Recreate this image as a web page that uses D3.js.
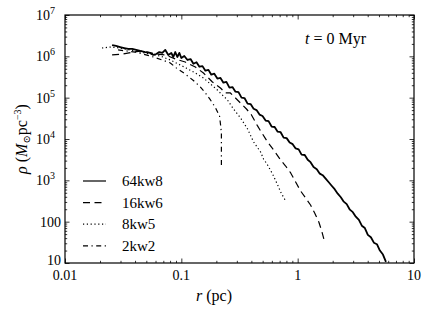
<!DOCTYPE html>
<html>
<head>
<meta charset="utf-8">
<script src="https://cdn.jsdelivr.net/npm/d3@7"></script>
<style>
  body { margin: 0; background: #fff; }
</style>
</head>
<body>
<div id="container"></div>
<script>
/* CONSTANTS AND GLOBALS */
const width = 436,
  height = 311,
  margin = { top: 15, bottom: 48, left: 65, right: 22 };

/* DATA */
const seriesNames = ["64kw8", "16kw6", "8kw5", "2kw2"];

const r64 = [0.0254, 0.0275, 0.0298, 0.0323, 0.0349, 0.0378, 0.0409, 0.0443, 0.049, 0.0541,
  0.0574, 0.0609, 0.0646, 0.0686, 0.0728, 0.0773, 0.082, 0.0853, 0.0887, 0.0924,
  0.0961, 0.1, 0.106, 0.113, 0.12, 0.127, 0.135, 0.143, 0.152, 0.161,
  0.171, 0.181, 0.192, 0.204, 0.217, 0.23, 0.244, 0.259, 0.275, 0.292,
  0.31, 0.329, 0.349, 0.371, 0.394, 0.418, 0.443, 0.47, 0.499, 0.53,
  0.562, 0.597, 0.634, 0.673, 0.714, 0.757, 0.804, 0.853, 0.906, 0.961,
  1.02, 1.08, 1.15, 1.22, 1.29, 1.37, 1.46, 1.55, 1.64, 1.74,
  1.85, 1.96, 2.08, 2.21, 2.35, 2.49, 2.64, 2.81, 2.98, 3.16,
  3.36, 3.56, 3.78, 4.01, 4.26, 4.52, 4.8, 5.09, 5.41, 5.74];
const rho64 = [1.88e6, 1.78e6, 1.68e6, 1.59e6, 1.51e6, 1.51e6, 1.43e6, 1.35e6, 1.27e6, 1.21e6,
  1.08e6, 1.14e6, 1.27e6, 1.21e6, 1.43e6, 1.08e6, 1.21e6, 9.64e5, 1.27e6, 9.64e5,
  1.21e6, 9.12e5, 1.02e6, 8.16e5, 8.6e5, 6.6e5, 7.2e5, 5.6e5, 5.8e5, 4.5e5,
  4.7e5, 3.6e5, 3.8e5, 2.9e5, 3.0e5, 2.3e5, 2.4e5, 1.75e5, 1.8e5, 1.4e5,
  1.36e5, 1.0e5, 9.8e4, 7.2e4, 7.0e4, 5.4e4, 5.0e4, 3.9e4, 3.6e4, 2.8e4,
  2.7e4, 2.0e4, 1.95e4, 1.5e4, 1.46e4, 1.08e4, 1.05e4, 8.2e3, 7.5e3, 5.9e3,
  5.6e3, 4.2e3, 4.1e3, 3.15e3, 2.75e3, 2.1e3, 1.86e3, 1.45e3, 1.33e3, 1.1e3,
  900, 740, 610, 475, 390, 305, 265, 195, 170, 132,
  110, 80, 70, 48, 42, 31, 28.5, 20, 16, 10.6];

const r16 = [0.0254, 0.0316, 0.0386, 0.0461, 0.0597, 0.0728, 0.0887, 0.108, 0.132, 0.155,
  0.185, 0.217, 0.239, 0.264, 0.292, 0.329, 0.363, 0.401, 0.452, 0.499,
  0.551, 0.621, 0.714, 0.788, 0.871, 0.961, 1.06, 1.17, 1.29, 1.4,
  1.52, 1.61, 1.68];
const rho16 = [1.08e6, 1.14e6, 1.27e6, 1.35e6, 1.14e6, 1.08e6, 8.63e5, 7.29e5, 5.52e5, 3.95e5,
  2.39e5, 1.71e5, 1.3e5, 1.3e5, 9.82e4, 7.03e4, 5.32e4, 3.81e4, 2.07e4, 1.32e4,
  8.47e3, 5.42e3, 3.1e3, 2.22e3, 1.51e3, 912, 552, 374, 253, 162,
  98, 59.4, 38.1];

const r8 = [0.0208, 0.0244, 0.0298, 0.0401, 0.0541, 0.0659, 0.0804, 0.0942, 0.11, 0.132,
  0.155, 0.178, 0.204, 0.249, 0.281, 0.323, 0.371, 0.418, 0.48, 0.509,
  0.551, 0.609, 0.673, 0.714, 0.788];
const rho8 = [1.59e6, 1.68e6, 1.59e6, 1.35e6, 1.14e6, 1.02e6, 8.16e5, 6.53e5, 5.22e5, 3.95e5,
  2.99e5, 2.14e5, 1.53e5, 8.79e4, 5.32e4, 3.22e4, 1.75e4, 8.47e3, 4.85e3, 3.28e3,
  2.35e3, 1.42e3, 771, 522, 316];

const r2 = [0.0286, 0.0401, 0.0541, 0.0686, 0.0804, 0.0924, 0.108, 0.127, 0.146, 0.161,
  0.178, 0.196, 0.213, 0.217, 0.221, 0.221];
const rho2 = [1.43e6, 1.27e6, 1.02e6, 8.16e5, 6.9e5, 5.0e5, 3.74e5, 2.6e5, 1.81e5, 1.3e5,
  8.8e4, 5.8e4, 3.6e4, 2.3e4, 1.4e4, 2.35e3];

const xTicks = [0.01, 0.1, 1, 10];
const xTickLabels = ["0.01", "0.1", "1", "10"];
const yTicks = [10, 100, 1e3, 1e4, 1e5, 1e6, 1e7];
const yTickExp = [null, null, 3, 4, 5, 6, 7];
const yTickPlain = ["10", "100", "10", "10", "10", "10", "10"];

const dashes = [null, "7,4.5", "1.2,2.6", "5,3.5,1.2,3.5"];

const serif = "'Liberation Serif', 'DejaVu Serif', serif";

/* SCALES */
const xScale = d3.scaleLog().domain([0.01, 10]).range([margin.left, width - margin.right]);
const yScale = d3.scaleLog().domain([10, 1e7]).range([height - margin.bottom, margin.top]);

const svg = d3.select("#container")
  .append("svg")
  .attr("width", width)
  .attr("height", height)
  .style("font-family", serif);

// minor ticks: 2..9 times each decade
const minorX = [];
[0.01, 0.1, 1].forEach(d => { for (let k = 2; k <= 9; k++) minorX.push(d * k); });
const minorY = [];
[10, 100, 1e3, 1e4, 1e5, 1e6].forEach(d => { for (let k = 2; k <= 9; k++) minorY.push(d * k); });

const x0 = margin.left, x1 = width - margin.right, y0 = height - margin.bottom, y1 = margin.top;

function tickAxis(axis, pos, vals, size) {
  const g = svg.append("g").attr("transform", pos)
    .call(axis.tickValues(vals).tickSize(size).tickFormat(""));
  g.select(".domain").remove();
  g.selectAll("line").attr("stroke", "#000").attr("stroke-width", 0.8);
  return g;
}

// inside ticks on all four sides
tickAxis(d3.axisBottom(xScale), `translate(0,${y0})`, xTicks, -4.5);
tickAxis(d3.axisBottom(xScale), `translate(0,${y0})`, minorX, -2.2);
tickAxis(d3.axisTop(xScale), `translate(0,${y1})`, xTicks, -4.5);
tickAxis(d3.axisTop(xScale), `translate(0,${y1})`, minorX, -2.2);
tickAxis(d3.axisLeft(yScale), `translate(${x0},0)`, yTicks, -4.5);
tickAxis(d3.axisLeft(yScale), `translate(${x0},0)`, minorY, -2.2);
tickAxis(d3.axisRight(yScale), `translate(${x1},0)`, yTicks, -4.5);
tickAxis(d3.axisRight(yScale), `translate(${x1},0)`, minorY, -2.2);

// frame
svg.append("rect")
  .attr("x", x0).attr("y", y1)
  .attr("width", x1 - x0).attr("height", y0 - y1)
  .attr("fill", "none").attr("stroke", "#000").attr("stroke-width", 1.2);

// tick labels
svg.append("g").selectAll("text")
  .data(xTicks)
  .join("text")
  .style("font-family", serif)
  .attr("x", d => xScale(d))
  .attr("y", y0 + 17)
  .attr("text-anchor", "middle")
  .attr("font-size", 14)
  .text((d, i) => xTickLabels[i]);

const yl = svg.append("g").selectAll("text")
  .data(yTicks)
  .join("text")
  .style("font-family", serif)
  .attr("x", (d, i) => yTickExp[i] ? x0 - 10 : x0 - 4)
  .attr("y", (d, i) => yScale(d) + (i === 0 ? 2 : 5))
  .attr("text-anchor", "end")
  .attr("font-size", 14);
yl.append("tspan").text((d, i) => yTickPlain[i]);
yl.filter((d, i) => yTickExp[i] !== null)
  .append("tspan")
  .attr("dy", -6)
  .attr("font-size", 10)
  .text(d => Math.round(Math.log10(d)));

// axis titles
const xt = svg.append("text")
  .style("font-family", serif)
  .attr("x", 214).attr("y", 301)
  .attr("text-anchor", "middle")
  .attr("font-size", 16);
xt.append("tspan").attr("font-style", "italic").text("r");
xt.append("tspan").text(" (pc)");

const ytl = svg.append("text")
  .style("font-family", serif)
  .attr("transform", `translate(27,${(y0 + y1) / 2}) rotate(-90)`)
  .attr("text-anchor", "middle")
  .attr("font-size", 16);
ytl.append("tspan").attr("font-style", "italic").text("ρ");
ytl.append("tspan").text(" (");
ytl.append("tspan").attr("font-style", "italic").text("M");
ytl.append("tspan").attr("font-size", 10).attr("dy", 3).text("⊙");
ytl.append("tspan").attr("dy", -3).text("pc");
ytl.append("tspan").attr("font-size", 10).attr("dy", -6).text("−3");
ytl.append("tspan").attr("dy", 6).text(")");

// annotation
const ann = svg.append("text")
  .style("font-family", serif)
  .attr("x", 305).attr("y", 44)
  .attr("font-size", 16);
ann.append("tspan").attr("font-style", "italic").text("t");
ann.append("tspan").text(" = 0 Myr");

/* LINES */
const seriesR = [r64, r16, r8, r2];
const seriesRho = [rho64, rho16, rho8, rho2];
const series = seriesNames.map((name, i) => ({
  name,
  dash: dashes[i],
  values: seriesR[i].map((r, j) => ({ r, rho: seriesRho[i][j] }))
}));

const line = d3.line()
  .x(d => xScale(d.r))
  .y(d => yScale(d.rho));

svg.append("g")
  .selectAll("path")
  .data(series)
  .join("path")
  .attr("d", d => line(d.values))
  .attr("fill", "none")
  .attr("stroke", "#000")
  .attr("stroke-width", (d, i) => i === 0 ? 1.8 : 1.2)
  .attr("stroke-linejoin", "round")
  .attr("stroke-dasharray", d => d.dash);

/* LEGEND */
const legend = svg.append("g")
  .selectAll("g")
  .data(series)
  .join("g")
  .attr("transform", (d, i) => `translate(83,${181 + i * 21.6})`);

legend.append("line")
  .attr("x1", 0).attr("x2", 23)
  .attr("stroke", "#000")
  .attr("stroke-width", 1.2)
  .attr("stroke-dasharray", d => d.dash);

legend.append("text")
  .style("font-family", serif)
  .attr("x", 39).attr("y", 5)
  .attr("font-size", 15)
  .text(d => d.name);
</script>
</body>
</html>
